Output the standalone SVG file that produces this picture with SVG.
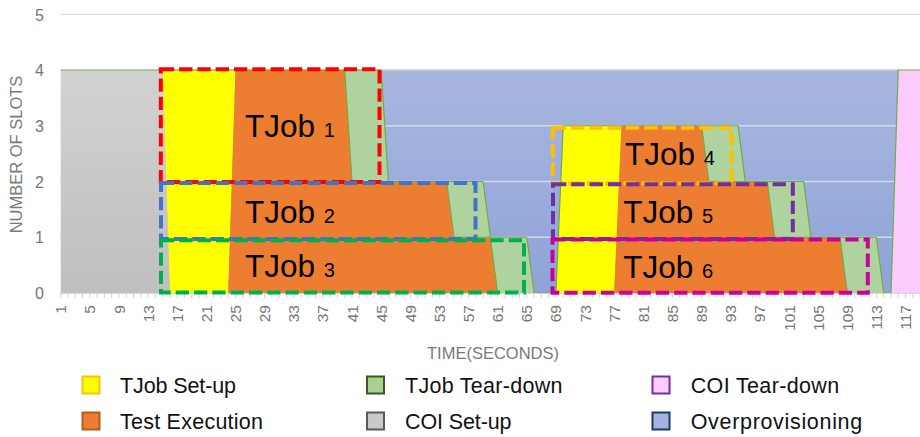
<svg xmlns="http://www.w3.org/2000/svg" width="920" height="437" viewBox="0 0 920 437">
  <defs>
    <linearGradient id="gBlue" gradientUnits="userSpaceOnUse" x1="0" y1="70" x2="0" y2="293">
      <stop offset="0" stop-color="#a9b7df"/>
      <stop offset="1" stop-color="#8fa3d8"/>
    </linearGradient>
    <linearGradient id="gGray" gradientUnits="userSpaceOnUse" x1="0" y1="70" x2="0" y2="293">
      <stop offset="0" stop-color="#d2d2d2"/>
      <stop offset="1" stop-color="#bfbfbf"/>
    </linearGradient>
    <pattern id="ticks" patternUnits="userSpaceOnUse" x="60.2" y="293" width="7.283" height="6">
      <rect x="0" y="0" width="1" height="6" fill="#d0d0d0"/>
    </pattern>
  </defs>
  <style>
    .axis { font-family: "Liberation Sans", Arial, sans-serif; fill: #767676; }
    .ynum { font-size: 16px; text-anchor: end; }
    .xnum { font-size: 15.5px; text-anchor: end; }
    .title { font-size: 16.5px; text-anchor: middle; fill: #7a7a7a; }
    .grid { stroke: #d9d9d9; stroke-width: 1.2; fill: none; }
    .gridover { stroke: #d3d9ea; stroke-width: 1.3; fill: none; }
    .box { fill: none; stroke-width: 4; stroke-dasharray: 13.3 5; }
    .jlabel { font-family: "Liberation Sans", Arial, sans-serif; font-size: 31.5px; fill: #000; }
    .jsub { font-size: 20px; }
    .leg { font-family: "Liberation Sans", Arial, sans-serif; font-size: 21.5px; fill: #111; }
    .sw { stroke-width: 2; }
    .outline { fill: none; stroke: #70ad47; stroke-width: 1.2; stroke-linejoin: round; }
  </style>

  <rect width="920" height="437" fill="#ffffff"/>

  <!-- top gridline (5 slots) -->
  <line class="grid" x1="60" y1="14.5" x2="920" y2="14.5"/>

  <!-- chart series (stacked areas) -->
  <g id="series">
    <rect id="overprovisioning" x="160" y="70" width="740" height="223" fill="url(#gBlue)"/>
    <g id="grid-over-blue">
      <line class="gridover" x1="60" y1="125.75" x2="920" y2="125.75"/>
      <line class="gridover" x1="60" y1="181.5" x2="920" y2="181.5"/>
      <line class="gridover" x1="60" y1="237.25" x2="920" y2="237.25"/>
      <line x1="160" y1="70" x2="900" y2="70" stroke="#cfd1d8" stroke-width="1.3"/>
    </g>
    <polygon id="coi-setup" points="60.7,70 162.7,70 169.9,293 60.7,293" fill="url(#gGray)"/>
    <polygon id="coi-teardown" points="891,293 898.2,70 920,70 920,293" fill="#fccbfb"/>
    <polygon id="setup-a" points="162.7,70 235.5,70 228.2,293 169.9,293" fill="#ffff00"/>
    <polygon id="setup-b" points="563.2,125.75 621.5,125.75 614.2,293 555.9,293" fill="#ffff00"/>
    <polygon id="exec-a" points="235.5,70 344.7,70 352,181.5 446.7,181.5 454,237.25 490.4,237.25 497.6,293 228.2,293" fill="#ed7d31"/>
    <polygon id="exec-b" points="621.5,125.75 701.6,125.75 708.9,181.5 767.2,181.5 774.5,237.25 840,237.25 847.3,293 614.2,293" fill="#ed7d31"/>
    <polygon id="teardown-a" points="344.7,70 381.2,70 388.4,181.5 483.1,181.5 490.4,237.25 526.8,237.25 534.1,293 497.6,293 490.4,237.25 454,237.25 446.7,181.5 352,181.5" fill="#afd39e"/>
    <polygon id="teardown-b" points="701.6,125.75 738,125.75 745.3,181.5 803.6,181.5 810.9,237.25 876.4,237.25 883.7,293 847.3,293 840,237.25 774.5,237.25 767.2,181.5 708.9,181.5" fill="#afd39e"/>
    <path class="outline" d="M60.7,70 H381.2 L388.4,181.5 H483.1 L490.4,237.25 H526.8 L534.1,293 H555.9 L563.2,125.75 H738 L745.3,181.5 H803.6 L810.9,237.25 H876.4 L883.7,293 H891 L898.2,70 H920"/>
    <path class="outline" d="M344.7,70 L352,181.5 H446.7 L454,237.25 H490.4 L497.6,293 M701.6,125.75 L708.9,181.5 H767.2 L774.5,237.25 H840 L847.3,293"/>
  </g>

  <!-- axes -->
  <g id="axes">
    <line x1="60" y1="293.5" x2="920" y2="293.5" stroke="#d9d9d9" stroke-width="1.2"/>
    <rect x="60" y="293" width="860" height="5" fill="url(#ticks)"/>
    <g class="axis ynum">
      <text x="44" y="20.5">5</text>
      <text x="44" y="76">4</text>
      <text x="44" y="131.5">3</text>
      <text x="44" y="187.5">2</text>
      <text x="44" y="243">1</text>
      <text x="44" y="298.5">0</text>
    </g>
    <text class="axis title" transform="translate(21.5,154.5) rotate(-90)">NUMBER OF SLOTS</text>
    <text class="axis title" x="493" y="359">TIME(SECONDS)</text>
    <g class="axis xnum">
      <text transform="translate(66.2,305) rotate(-90)">1</text>
      <text transform="translate(95.3,305) rotate(-90)">5</text>
      <text transform="translate(124.5,305) rotate(-90)">9</text>
      <text transform="translate(153.6,305) rotate(-90)">13</text>
      <text transform="translate(182.7,305) rotate(-90)">17</text>
      <text transform="translate(211.9,305) rotate(-90)">21</text>
      <text transform="translate(241,305) rotate(-90)">25</text>
      <text transform="translate(270.1,305) rotate(-90)">29</text>
      <text transform="translate(299.3,305) rotate(-90)">33</text>
      <text transform="translate(328.4,305) rotate(-90)">37</text>
      <text transform="translate(357.5,305) rotate(-90)">41</text>
      <text transform="translate(386.7,305) rotate(-90)">45</text>
      <text transform="translate(415.8,305) rotate(-90)">49</text>
      <text transform="translate(444.9,305) rotate(-90)">53</text>
      <text transform="translate(474,305) rotate(-90)">57</text>
      <text transform="translate(503.2,305) rotate(-90)">61</text>
      <text transform="translate(532.3,305) rotate(-90)">65</text>
      <text transform="translate(561.4,305) rotate(-90)">69</text>
      <text transform="translate(590.6,305) rotate(-90)">73</text>
      <text transform="translate(619.7,305) rotate(-90)">77</text>
      <text transform="translate(648.8,305) rotate(-90)">81</text>
      <text transform="translate(678,305) rotate(-90)">85</text>
      <text transform="translate(707.1,305) rotate(-90)">89</text>
      <text transform="translate(736.3,305) rotate(-90)">93</text>
      <text transform="translate(765.4,305) rotate(-90)">97</text>
      <text transform="translate(794.5,305) rotate(-90)">101</text>
      <text transform="translate(823.7,305) rotate(-90)">105</text>
      <text transform="translate(852.8,305) rotate(-90)">109</text>
      <text transform="translate(881.9,305) rotate(-90)">113</text>
      <text transform="translate(911.1,305) rotate(-90)">117</text>
    </g>
  </g>

  <!-- job boxes with labels -->
  <g id="tjob1">
    <rect class="box" x="160.8" y="69.2" width="218.7" height="112.8" stroke="#ff0000"/>
    <text class="jlabel" x="245" y="137">TJob <tspan class="jsub">1</tspan></text>
  </g>
  <g id="tjob2">
    <rect class="box" x="161" y="183" width="314.5" height="56" stroke="#4472c4"/>
    <text class="jlabel" x="245" y="223">TJob <tspan class="jsub">2</tspan></text>
  </g>
  <g id="tjob3">
    <rect class="box" x="161" y="240.3" width="363" height="52.3" stroke="#00b050"/>
    <text class="jlabel" x="245" y="277">TJob <tspan class="jsub">3</tspan></text>
  </g>
  <g id="tjob4">
    <rect class="box" x="552.8" y="127.7" width="178.7" height="55.8" stroke="#ffc000"/>
    <text class="jlabel" x="625" y="165">TJob <tspan class="jsub">4</tspan></text>
  </g>
  <g id="tjob5">
    <rect class="box" x="553" y="184.3" width="239.8" height="54.7" stroke="#7030a0"/>
    <text class="jlabel" x="623.3" y="223">TJob <tspan class="jsub">5</tspan></text>
  </g>
  <g id="tjob6">
    <rect class="box" x="552.5" y="239.5" width="315.3" height="53.3" stroke="#cc0099"/>
    <text class="jlabel" x="623.3" y="278">TJob <tspan class="jsub">6</tspan></text>
  </g>

  <!-- legend -->
  <g id="legend" class="leg">
    <g id="leg-setup">
      <rect class="sw" x="82.5" y="376.5" width="17" height="17" fill="#ffff00" stroke="#ffc000"/>
      <text x="120" y="392.5" textLength="116">TJob Set-up</text>
    </g>
    <g id="leg-exec">
      <rect class="sw" x="82.5" y="412.5" width="17" height="17" fill="#ed7d31" stroke="#b85a1e"/>
      <text x="120" y="429" textLength="143">Test Execution</text>
    </g>
    <g id="leg-teardown">
      <rect class="sw" x="367" y="376.5" width="17" height="17" fill="#a9d18e" stroke="#385723"/>
      <text x="405" y="392.5" textLength="157.5">TJob Tear-down</text>
    </g>
    <g id="leg-coi-setup">
      <rect class="sw" x="367" y="412.5" width="17" height="17" fill="#c9c9c9" stroke="#595959"/>
      <text x="405" y="429" textLength="106.5">COI Set-up</text>
    </g>
    <g id="leg-coi-teardown">
      <rect class="sw" x="652.5" y="376.5" width="17" height="17" fill="#ffccff" stroke="#7030a0"/>
      <text x="690.7" y="392.5" textLength="148.5">COI Tear-down</text>
    </g>
    <g id="leg-overprov">
      <rect class="sw" x="652.5" y="412.5" width="17" height="17" fill="#a4b4df" stroke="#1f3864"/>
      <text x="690.7" y="429" textLength="171.5">Overprovisioning</text>
    </g>
  </g>
</svg>
